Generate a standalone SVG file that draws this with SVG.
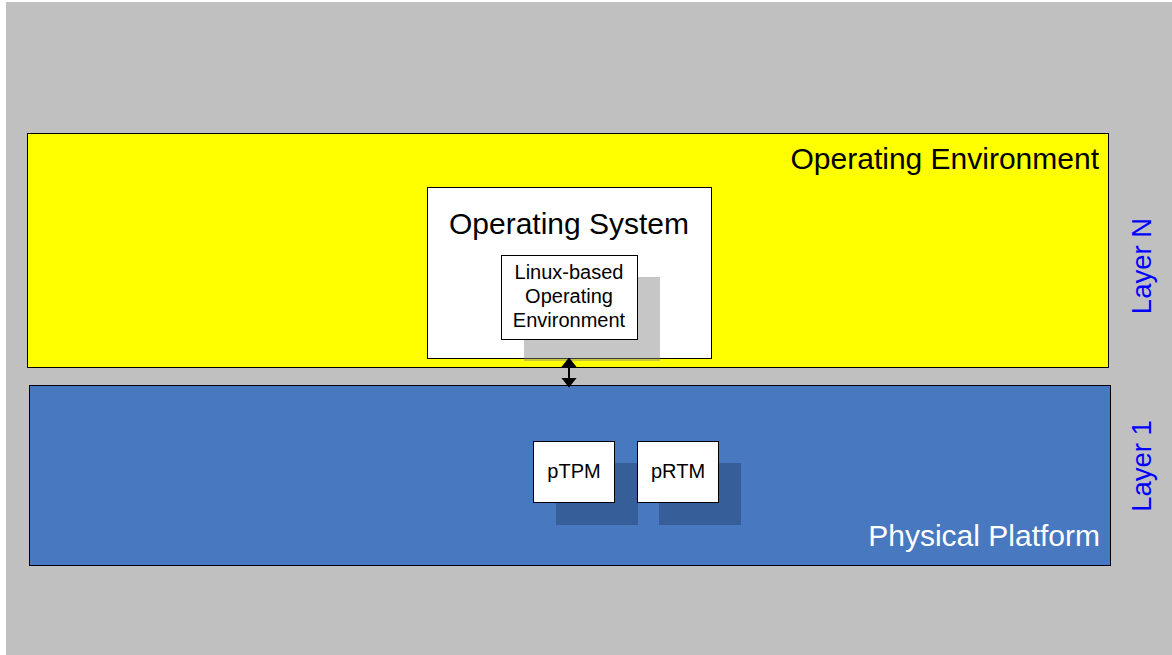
<svg xmlns="http://www.w3.org/2000/svg" width="1172" height="655" viewBox="0 0 1172 655">
<defs>
<style>
.box{stroke:#000;stroke-width:1}
.t{font-family:"Liberation Sans",Arial,sans-serif}
.shadow{fill:#808080;fill-opacity:0.45}
.shadowb{fill:#2b4f80;fill-opacity:0.6}
</style>
<marker id="ah" viewBox="0 0 10 16" refX="9.5" refY="8" markerWidth="10" markerHeight="16" markerUnits="userSpaceOnUse" orient="auto-start-reverse">
<path d="M0,0 L10,8 L0,16 z" fill="#000"/>
</marker>
</defs>
<rect x="0" y="0" width="1172" height="655" fill="#fff"/>
<rect x="6" y="2" width="1166" height="653" fill="#c0c0c0"/>
<g id="operating-environment">
<rect class="box" x="27.5" y="133.5" width="1081" height="234" fill="#ffff00"/>
<text class="t" x="1099" y="169" font-size="30" text-anchor="end" fill="#000">Operating Environment</text>
</g>
<g id="physical-platform">
<rect class="box" x="29.5" y="385.5" width="1081" height="180" fill="#4878c0"/>
<text class="t" x="1100" y="546" font-size="30" text-anchor="end" fill="#fff">Physical Platform</text>
</g>
<g id="operating-system">
<rect class="shadow" x="524" y="277" width="136" height="84"/>
<rect class="box" x="427.5" y="187.5" width="284" height="171" fill="#fff"/>
<rect class="shadow" x="524" y="339" width="136" height="20"/>
<text class="t" x="569" y="234" font-size="30" text-anchor="middle" fill="#000">Operating System</text>
</g>
<g id="linux-env">
<rect class="shadow" x="637" y="277" width="23" height="62"/>
<rect class="box" x="501.5" y="255.5" width="136" height="84" fill="#fff"/>
<text class="t" font-size="20" text-anchor="middle" fill="#000"><tspan x="569" y="279">Linux-based</tspan><tspan x="569" y="303">Operating</tspan><tspan x="569" y="327">Environment</tspan></text>
</g>
<g id="ptpm">
<rect class="shadowb" x="556" y="463" width="82" height="62"/>
<rect class="box" x="533.5" y="441.5" width="81" height="61" fill="#fff"/>
<text class="t" x="574" y="478" font-size="20" text-anchor="middle" fill="#000">pTPM</text>
</g>
<g id="prtm">
<rect class="shadowb" x="659" y="463" width="82" height="62"/>
<rect class="box" x="637.5" y="441.5" width="81" height="61" fill="#fff"/>
<text class="t" x="678" y="478" font-size="20" text-anchor="middle" fill="#000">pRTM</text>
</g>
<g id="layer-labels">
<text class="t" transform="translate(1151,266) rotate(-90)" font-size="27.5" text-anchor="middle" fill="#0000ff">Layer N</text>
<text class="t" transform="translate(1151,466) rotate(-90)" font-size="27.5" text-anchor="middle" fill="#0000ff">Layer 1</text>
</g>
<g id="connectors">
<line x1="569" y1="358" x2="569" y2="387" stroke="#000" stroke-width="2" marker-start="url(#ah)" marker-end="url(#ah)"/>
</g>
</svg>
